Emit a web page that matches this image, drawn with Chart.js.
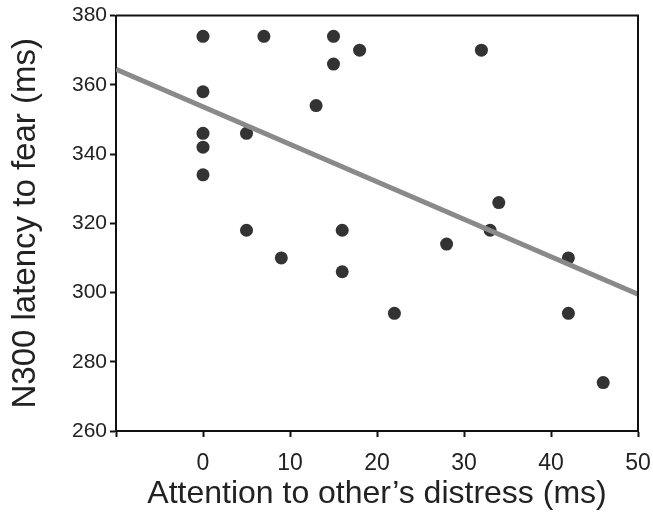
<!DOCTYPE html>
<html>
<head>
<meta charset="utf-8">
<script src="https://cdn.jsdelivr.net/npm/chart.js@4"></script>
<style>
  html, body { margin: 0; padding: 0; background: #fff; }
  #wrap { width: 653px; height: 516px; }
</style>
</head>
<body>
<div id="wrap"><canvas id="myChart"></canvas></div>
<script>
// Datos
const attention = [0, 0, 0, 0, 0, 7, 15, 15, 18, 13, 5, 5, 9, 16, 16, 22, 28, 32, 33, 34, 42, 42, 46];
const latency = [374, 358, 346, 342, 334, 374, 374, 366, 370, 354, 346, 318, 310, 318, 306, 294, 314, 370, 318, 326, 310, 294, 274];

// Recta de regresion (extremos)
const fitX = [-10, 50];
const fitY = [364.5, 299.5];

const xTicks = [-10, 0, 10, 20, 30, 40, 50];
const yTicks = [260, 280, 300, 320, 340, 360, 380];

const pointsData = attention.map((x, i) => ({ x: x, y: latency[i] }));
const lineData = fitX.map((x, i) => ({ x: x, y: fitY[i] }));

// Marco superior y derecho del area del grafico
const boxPlugin = {
    id: 'box',
    afterDraw(chart) {
        const { ctx, chartArea } = chart;
        ctx.save();
        ctx.strokeStyle = '#111';
        ctx.lineWidth = 2;
        ctx.beginPath();
        ctx.moveTo(chartArea.left, chartArea.top);
        ctx.lineTo(chartArea.right, chartArea.top);
        ctx.lineTo(chartArea.right, chartArea.bottom);
        ctx.stroke();
        ctx.restore();
    }
};

const ctx = document.getElementById('myChart').getContext('2d');

const myChart = new Chart(ctx, {
    type: 'scatter',
    data: {
        datasets: [{
            type: 'line',
            data: lineData,
            borderColor: '#8a8a8a',
            borderWidth: 5,
            pointRadius: 0,
            fill: false
        }, {
            data: pointsData,
            backgroundColor: '#333333',
            borderColor: '#333333',
            pointRadius: 6.5,
            borderWidth: 0
        }]
    },
    options: {
        responsive: true,
        maintainAspectRatio: false,
        animation: false,
        layout: { padding: { top: 15, right: 15, left: 0, bottom: 0 } },
        plugins: {
            legend: { display: false },
            tooltip: { enabled: false }
        },
        scales: {
            x: {
                type: 'linear',
                min: -10,
                max: 50,
                afterFit: (s) => { s.height = 85; s.paddingRight = 15; s.paddingLeft = 0; },
                afterBuildTicks: (s) => { s.ticks = xTicks.map(v => ({ value: v })); },
                border: { color: '#111', width: 2 },
                grid: { drawOnChartArea: false, tickLength: 6, tickWidth: 2, color: '#111' },
                ticks: {
                    padding: 13,
                    color: '#222',
                    font: { family: 'Liberation Sans', size: 23 },
                    callback: (v) => v < 0 ? '' : v
                },
                title: {
                    display: true,
                    text: 'Attention to other\u2019s distress (ms)',
                    color: '#222',
                    font: { family: 'Liberation Sans', size: 32 },
                    padding: { top: 0, bottom: 3 }
                }
            },
            y: {
                min: 260,
                max: 380,
                afterFit: (s) => { s.width = 116; },
                afterBuildTicks: (s) => { s.ticks = yTicks.map(v => ({ value: v })); },
                border: { color: '#111', width: 2 },
                grid: { drawOnChartArea: false, tickLength: 6, tickWidth: 2, color: '#111' },
                ticks: {
                    padding: 3,
                    color: '#222',
                    font: { family: 'Liberation Sans', size: 21 }
                },
                title: {
                    display: true,
                    text: 'N300 latency to fear (ms)',
                    color: '#222',
                    font: { family: 'Liberation Sans', size: 33 },
                    padding: { top: 6, bottom: 0 }
                }
            }
        }
    },
    plugins: [boxPlugin]
});
</script>
</body>
</html>
